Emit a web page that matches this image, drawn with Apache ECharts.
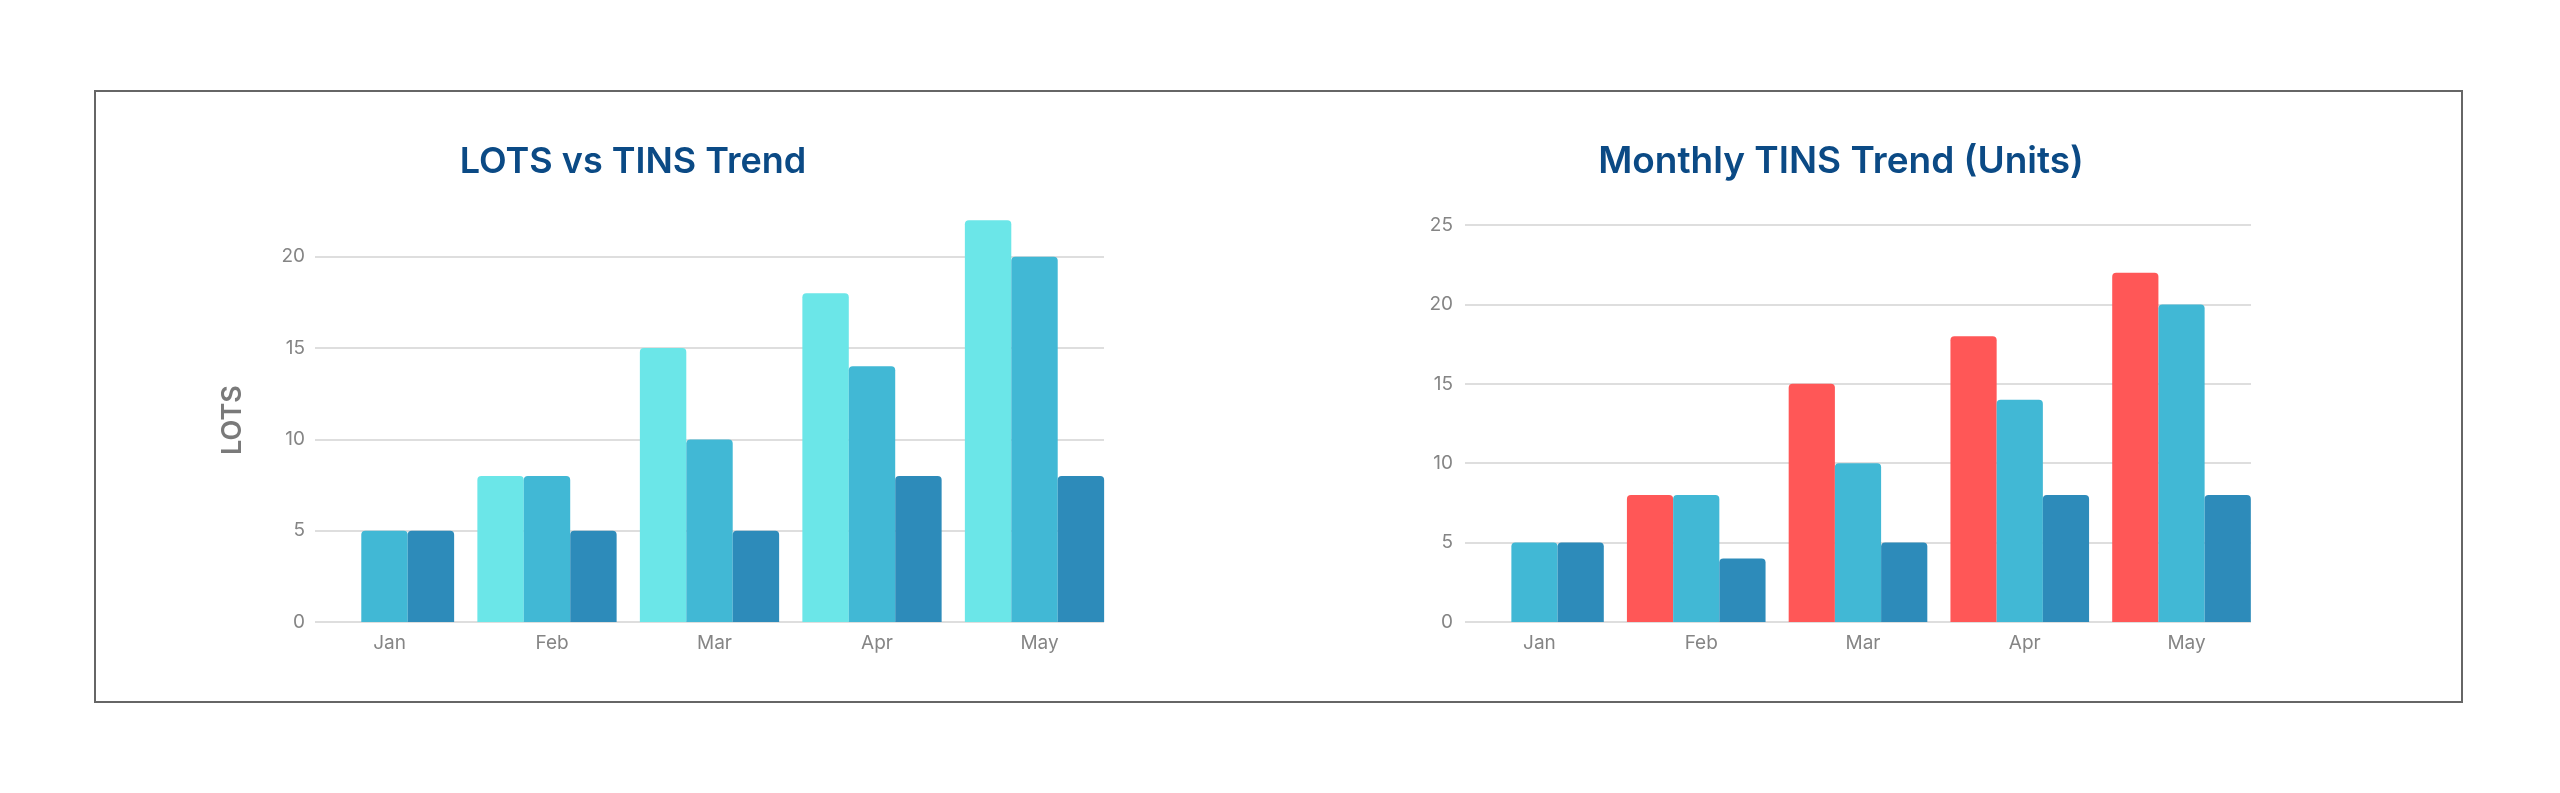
<!DOCTYPE html>
<html>
<head>
<meta charset="utf-8">
<title>LOTS vs TINS</title>
<script src="https://cdn.jsdelivr.net/npm/echarts@6/dist/echarts.min.js"></script>
<style>
  html, body { margin: 0; padding: 0; background: #fff; }
  #main { width: 2560px; height: 793px; }
</style>
</head>
<body>
<div id="main"></div>
<script>
// data
var months = ['Jan', 'Feb', 'Mar', 'Apr', 'May'];

var leftLots = [null, 8, 15, 18, 22];
var leftTins = [5, 8, 10, 14, 20];
var leftThird = [5, 5, 5, 8, 8];

var rightLots = [null, 8, 15, 18, 22];
var rightTins = [5, 8, 10, 14, 20];
var rightThird = [5, 4, 5, 8, 8];

var leftTicks = { min: 0, max: 20, interval: 5 };
var rightTicks = { min: 0, max: 25, interval: 5 };

var FONT = 'Inter, "Noto Sans", sans-serif';
var LABEL_GREY = '#858585';
var GRID_GREY = '#d3d3d3';

function barSeries(name, data, color, axisIndex) {
	return {
		name: name,
		type: 'bar',
		xAxisIndex: axisIndex,
		yAxisIndex: axisIndex,
		data: data,
		barGap: '0%',
		barCategoryGap: '14.3%',
		itemStyle: { color: color, borderRadius: [4, 4, 0, 0] },
		silent: true
	};
}

// month labels sit a few px right of the bar groups in the reference
var monthLabel = {
	color: LABEL_GREY, fontSize: 19, margin: 12, fontFamily: FONT,
	padding: [0, 0, 0, 10]
};

var myChart = echarts.init(document.getElementById('main'), null, { renderer: 'canvas' });

var option = {
	animation: false,
	backgroundColor: '#fff',
	textStyle: { fontFamily: FONT },
	grid: [
		// 0: left chart gridlines + y labels
		{ left: 315, right: 2560 - 1104, top: 256.7, bottom: 171 },
		// 1: left chart bars (band spans half a gap past the gridlines)
		{ left: 303.25, right: 2560 - 1115.75, top: 165.5, bottom: 171 },
		// 2: right chart gridlines + y labels
		{ left: 1465, right: 2560 - 2251, top: 225, bottom: 171 },
		// 3: right chart bars
		{ left: 1453.6, right: 2560 - 2262.4, top: 225, bottom: 171 }
	],
	xAxis: [
		{ gridIndex: 0, type: 'category', data: months, show: false },
		{
			gridIndex: 1, type: 'category', data: months,
			axisLine: { show: false }, axisTick: { show: false },
			axisLabel: monthLabel
		},
		{ gridIndex: 2, type: 'category', data: months, show: false },
		{
			gridIndex: 3, type: 'category', data: months,
			axisLine: { show: false }, axisTick: { show: false },
			axisLabel: monthLabel
		}
	],
	yAxis: [
		{
			gridIndex: 0, type: 'value',
			min: leftTicks.min, max: leftTicks.max, interval: leftTicks.interval,
			axisLine: { show: false }, axisTick: { show: false },
			axisLabel: { color: LABEL_GREY, fontSize: 19, margin: 10, fontFamily: FONT },
			splitLine: { lineStyle: { color: GRID_GREY, width: 1.5 } }
		},
		{ gridIndex: 1, type: 'value', min: 0, max: 25, show: false, splitLine: { show: false } },
		{
			gridIndex: 2, type: 'value',
			min: rightTicks.min, max: rightTicks.max, interval: rightTicks.interval,
			axisLine: { show: false }, axisTick: { show: false },
			axisLabel: { color: LABEL_GREY, fontSize: 19, margin: 12, fontFamily: FONT },
			splitLine: { lineStyle: { color: GRID_GREY, width: 1.5 } }
		},
		{ gridIndex: 3, type: 'value', min: 0, max: 25, show: false, splitLine: { show: false } }
	],
	series: [
		barSeries('LOTS', leftLots, '#6be6e8', 1),
		barSeries('TINS', leftTins, '#41b8d5', 1),
		barSeries('Other', leftThird, '#2d8bba', 1),
		barSeries('LOTS', rightLots, '#ff5757', 3),
		barSeries('TINS', rightTins, '#41b8d5', 3),
		barSeries('Other', rightThird, '#2d8bba', 3)
	],
	graphic: [
		{
			type: 'rect', silent: true, z: -1,
			shape: { x: 95, y: 91, width: 2367, height: 611 },
			style: { fill: 'none', stroke: '#666', lineWidth: 2 }
		},
		{
			type: 'text', silent: true, x: 633, y: 162,
			style: {
				text: 'LOTS vs TINS Trend', fill: '#0b4a85',
				font: '600 36px ' + FONT, textAlign: 'center', textVerticalAlign: 'middle'
			}
		},
		{
			type: 'text', silent: true, x: 1841, y: 162,
			style: {
				text: 'Monthly TINS Trend (Units)', fill: '#0b4a85',
				font: '600 37px ' + FONT, textAlign: 'center', textVerticalAlign: 'middle'
			}
		},
		{
			type: 'text', silent: true, x: 233, y: 420, rotation: Math.PI / 2,
			style: {
				text: 'LOTS', fill: '#7a7a7a',
				font: '600 27px ' + FONT, textAlign: 'center', textVerticalAlign: 'middle'
			}
		}
	]
};

myChart.setOption(option);
</script>
</body>
</html>
